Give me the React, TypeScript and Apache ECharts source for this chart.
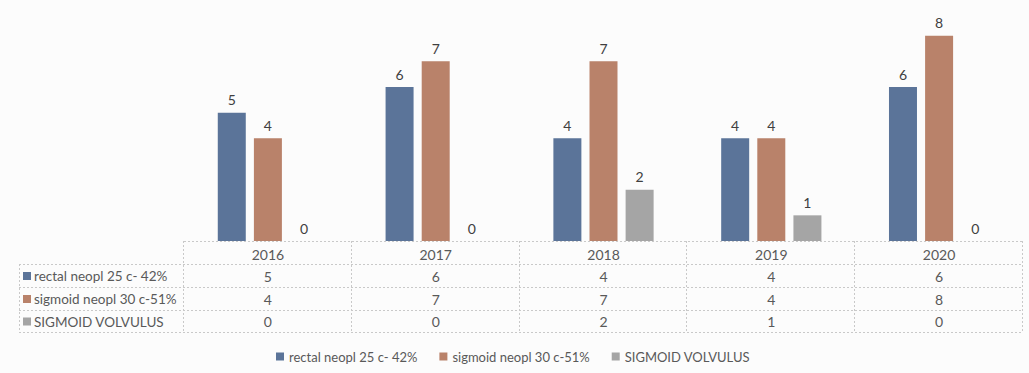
import React, { useEffect, useRef } from "react";
import * as echarts from "echarts";

const years = ["2016", "2017", "2018", "2019", "2020"];
const seriesNames = ["rectal neopl 25 c- 42%", "sigmoid neopl 30 c-51%", "SIGMOID VOLVULUS"];
const rectal = [5, 6, 4, 4, 6];
const sigmoid = [4, 7, 7, 4, 8];
const volvulus = [0, 0, 2, 1, 0];
const colors = ["#5b7499", "#b9826a", "#a5a5a5"];

const W = 1029;
const H = 373;
const FONT = "Lato";
const TEXT = "#595959";
const FS = 14;

export default function App() {
  const ref = useRef<HTMLDivElement>(null);

  useEffect(() => {
    if (!ref.current) return;
    const chart = echarts.init(ref.current, undefined, { renderer: "svg" });

    // plot / table geometry
    const plotLeft = 184;
    const plotRight = 1023;
    const baseY = 241;
    const tableLeft = 19;
    const rowH = 23;
    const rows = [baseY, baseY + rowH, baseY + 2 * rowH, baseY + 3 * rowH, baseY + 4 * rowH - 1];
    const colW = (plotRight - plotLeft) / years.length;
    const lineStyle = { stroke: "#c9c9c9", lineWidth: 1, lineDash: [2, 2] };

    const values = [rectal, sigmoid, volvulus];
    const graphics: any[] = [];

    // horizontal rules of the data table
    rows.forEach((y, i) => {
      graphics.push({
        type: "line",
        shape: { x1: i === 0 ? plotLeft : tableLeft, y1: y + 0.5, x2: plotRight, y2: y + 0.5 },
        style: lineStyle,
        silent: true,
      });
    });
    // vertical rules
    graphics.push({
      type: "line",
      shape: { x1: tableLeft + 0.5, y1: rows[1], x2: tableLeft + 0.5, y2: rows[4] },
      style: lineStyle,
      silent: true,
    });
    for (let c = 0; c <= years.length; c++) {
      const x = Math.round(plotLeft + c * colW) - 0.5;
      graphics.push({
        type: "line",
        shape: { x1: x, y1: rows[0], x2: x, y2: rows[4] },
        style: lineStyle,
        silent: true,
      });
    }
    // row headers with colour keys, and the cell values
    seriesNames.forEach((name, r) => {
      const cy = (rows[r + 1] + rows[r + 2]) / 2 + 0.5;
      graphics.push({
        type: "rect",
        shape: { x: 23, y: cy - 4, width: 8, height: 8 },
        style: { fill: colors[r] },
        silent: true,
      });
      graphics.push({
        type: "text",
        x: 34,
        y: cy,
        style: {
          text: name,
          fill: TEXT,
          font: `13.5px ${FONT}`,
          textVerticalAlign: "middle",
          textAlign: "left",
        },
        silent: true,
      });
      values[r].forEach((v, c) => {
        graphics.push({
          type: "text",
          x: plotLeft + (c + 0.5) * colW,
          y: cy,
          style: {
            text: String(v),
            fill: TEXT,
            font: `${FS}px ${FONT}`,
            textVerticalAlign: "middle",
            textAlign: "center",
          },
          silent: true,
        });
      });
    });

    const makeSeries = (i: number, data: number[]) => ({
      name: seriesNames[i],
      type: "bar",
      data,
      barWidth: 28,
      barGap: "29%",
      itemStyle: { color: colors[i] },
      label: {
        show: true,
        position: "top",
        distance: 6,
        color: "#404040",
        fontFamily: FONT,
        fontSize: FS,
      },
    });

    chart.setOption({
      animation: false,
      backgroundColor: "#fcfcfc",
      textStyle: { fontFamily: FONT },
      grid: { left: plotLeft, right: W - plotRight, top: 10, bottom: H - baseY, containLabel: false },
      xAxis: {
        type: "category",
        data: years,
        axisLine: { show: false },
        axisTick: { show: false },
        axisLabel: { color: TEXT, fontSize: FS, fontFamily: FONT, margin: 6 },
      },
      yAxis: {
        type: "value",
        min: 0,
        max: 9,
        interval: 1,
        show: false,
        splitLine: { show: false },
      },
      legend: {
        data: seriesNames,
        left: 271,
        top: 345,
        icon: "rect",
        itemWidth: 8,
        itemHeight: 8,
        itemGap: 22,
        textStyle: { color: TEXT, fontSize: 13, fontFamily: FONT },
        selectedMode: false,
      },
      series: [makeSeries(0, rectal), makeSeries(1, sigmoid), makeSeries(2, volvulus)],
      graphic: graphics,
    });

    return () => chart.dispose();
  }, []);

  return (
    <div
      ref={ref}
      style={{ position: "fixed", left: 0, top: 0, width: W, height: H }}
    />
  );
}
